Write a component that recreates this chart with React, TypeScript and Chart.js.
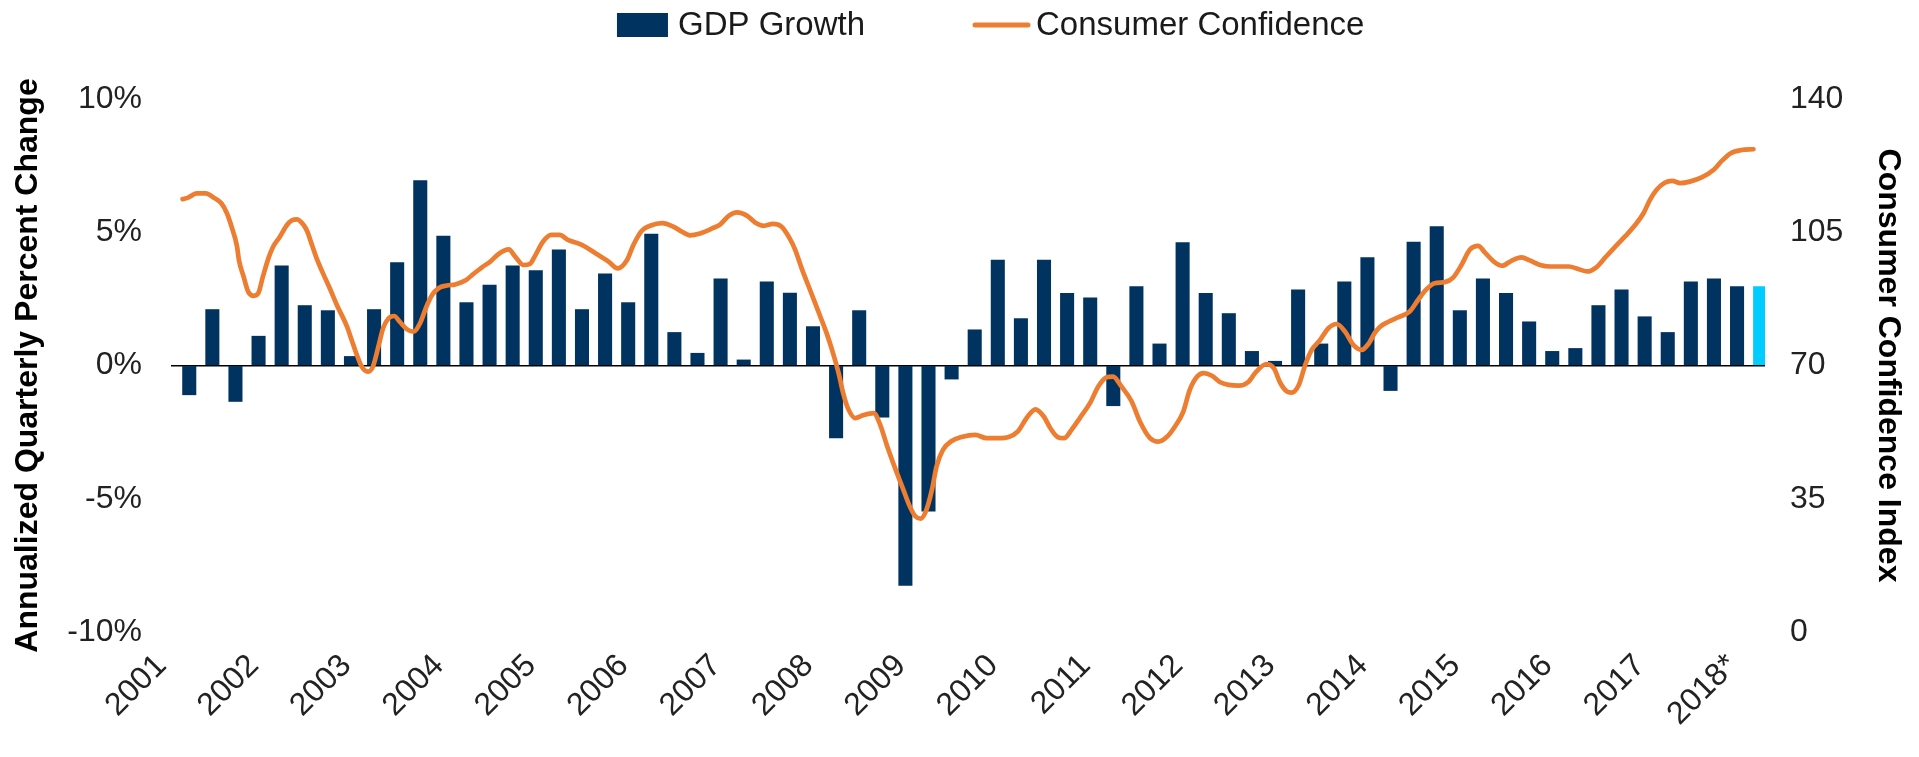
import React, { useEffect, useRef } from 'react';
import { Chart, registerables } from 'chart.js';

Chart.register(...registerables);

// ---------- DATA ----------
const yearLabels: string[] = [
  '2001', '2002', '2003', '2004', '2005', '2006', '2007', '2008', '2009',
  '2010', '2011', '2012', '2013', '2014', '2015', '2016', '2017', '2018*',
];

// Annualized quarterly GDP growth (%), 2001 Q1 .. 2018 Q1
const gdpGrowth: number[] = [
  -1.1, 2.1, -1.35, 1.1,
  3.74, 2.25, 2.06, 0.34,
  2.1, 3.86, 6.94, 4.86,
  2.36, 3.02, 3.74, 3.56,
  4.34, 2.1, 3.44, 2.36,
  4.93, 1.24, 0.46, 3.25,
  0.21, 3.14, 2.72, 1.46,
  -2.72, 2.06, -1.94, -8.25,
  -5.47, -0.51, 1.34, 3.96,
  1.76, 3.96, 2.71, 2.54,
  -1.51, 2.96, 0.81, 4.61,
  2.71, 1.95, 0.53, 0.16,
  2.84, 0.81, 3.14, 4.05,
  -0.94, 4.63, 5.21, 2.06,
  3.25, 2.71, 1.64, 0.53,
  0.64, 2.25, 2.84, 1.83,
  1.24, 3.14, 3.25, 2.96,
  2.96,
];
const forecastIndex = 68; // last bar (estimate) highlighted

// Consumer Confidence Index: time (decimal year, aligned to quarter centres) and value
const ccTime: number[] = [
  2001.00, 2001.06, 2001.15, 2001.25, 2001.35, 2001.42, 2001.48, 2001.53, 2001.59, 2001.61, 2001.66, 2001.71, 2001.77, 2001.82, 2001.87, 2001.93, 2001.98,
  2002.05, 2002.13, 2002.18, 2002.24, 2002.31, 2002.35, 2002.40, 2002.45, 2002.52, 2002.60, 2002.67, 2002.78, 2002.83, 2002.88, 2002.94,
  2003.01, 2003.06, 2003.12, 2003.17, 2003.23, 2003.29, 2003.35, 2003.43, 2003.50, 2003.57, 2003.64, 2003.70, 2003.77, 2003.86, 2003.95,
  2004.06, 2004.15, 2004.24, 2004.33, 2004.42, 2004.53, 2004.60, 2004.69, 2004.76, 2004.81, 2004.90, 2004.99,
  2005.08, 2005.17, 2005.32, 2005.50, 2005.61, 2005.71, 2005.81, 2005.88, 2005.97,
  2006.06, 2006.19, 2006.31, 2006.40, 2006.49, 2006.60, 2006.73, 2006.82, 2006.91,
  2007.00, 2007.11, 2007.20, 2007.29, 2007.39, 2007.48, 2007.57, 2007.63, 2007.70, 2007.79, 2007.88, 2007.97,
  2008.04, 2008.10, 2008.15, 2008.20, 2008.28, 2008.37, 2008.48, 2008.55, 2008.62, 2008.71, 2008.80, 2008.87, 2008.93, 2008.99,
  2009.05, 2009.11, 2009.16, 2009.23, 2009.32, 2009.43, 2009.58, 2009.70, 2009.83, 2009.94,
  2010.04, 2010.14, 2010.23, 2010.32, 2010.39, 2010.47, 2010.54, 2010.62, 2010.71, 2010.82, 2010.91,
  2011.00, 2011.07, 2011.16, 2011.27, 2011.36, 2011.47, 2011.56, 2011.65, 2011.74, 2011.83, 2011.90, 2011.98,
  2012.05, 2012.14, 2012.23, 2012.32, 2012.43, 2012.53, 2012.62, 2012.73, 2012.81, 2012.88, 2012.95,
  2013.00, 2013.08, 2013.15, 2013.22, 2013.31, 2013.40, 2013.49, 2013.58, 2013.67, 2013.76, 2013.84, 2013.90, 2013.96,
  2014.05, 2014.16, 2014.28, 2014.37, 2014.46, 2014.55, 2014.66, 2014.75, 2014.84, 2014.93,
  2015.02, 2015.10, 2015.19, 2015.28, 2015.38, 2015.49, 2015.58, 2015.69, 2015.80,
  2016.00, 2016.11, 2016.20, 2016.30, 2016.39, 2016.50, 2016.61, 2016.72, 2016.81, 2016.88, 2016.95,
  2017.04, 2017.12, 2017.21, 2017.31, 2017.44, 2017.57, 2017.66, 2017.75, 2017.87,
  2018.00,
];
const ccIndex: number[] = [
  113.7, 114.1, 115.2, 115.2, 113.9, 112.6, 110.0, 106.5, 101.2, 97.7, 93.4, 89.4, 88.3, 89.0, 93.4, 98.2, 101.2,
  103.7, 106.9, 108.1, 108.4, 106.9, 105.2, 101.7, 98.2, 94.2, 89.9, 85.9, 80.2, 76.7, 73.2, 69.7,
  68.4, 69.7, 75.0, 79.8, 82.4, 83.0, 81.5, 79.5, 78.9, 81.1, 85.5, 88.5, 90.3, 91.0, 91.3,
  92.3, 94.1, 95.8, 97.3, 99.3, 100.5, 98.6, 96.4, 96.7, 98.6, 102.5, 104.3,
  104.3, 103.0, 101.7, 99.0, 97.3, 95.5, 97.7, 101.7, 105.4,
  106.7, 107.4, 106.5, 105.2, 104.2, 104.7, 106.0, 107.1, 109.3,
  110.2, 109.3, 107.5, 106.7, 107.2, 106.5, 103.4, 100.4, 95.5, 89.9, 84.2, 78.5,
  73.2, 68.0, 62.7, 58.8, 56.2, 57.0, 57.5, 54.4, 49.2, 43.1, 37.4, 33.0, 30.4, 29.8,
  32.1, 37.4, 43.5, 47.9, 50.1, 51.2, 51.8, 50.9, 50.9, 51.2,
  52.7, 56.4, 58.5, 56.6, 53.6, 51.2, 50.9, 53.1, 56.2, 60.1, 64.5,
  66.9, 67.1, 64.5, 60.6, 55.3, 50.9, 50.0, 51.2, 54.0, 57.9, 63.6, 67.1,
  68.0, 67.3, 65.6, 64.9, 64.7, 65.6, 68.4, 70.4, 69.3, 65.4, 63.2,
  62.9, 64.9, 70.2, 74.1, 76.7, 79.8, 80.9, 78.9, 75.4, 74.1, 75.9, 78.5, 80.2,
  81.5, 82.7, 84.2, 87.2, 90.0, 91.6, 91.9, 93.1, 96.4, 100.4,
  101.4, 99.5, 97.3, 96.2, 97.5, 98.4, 97.6, 96.4, 96.0,
  96.0, 95.3, 94.7, 95.8, 98.2, 101.1, 103.9, 106.9, 110.0, 113.5, 116.1,
  118.0, 118.5, 117.9, 118.3, 119.4, 121.4, 123.8, 125.7, 126.6,
  126.8,
];

const seriesNames: string[] = ['GDP Growth', 'Consumer Confidence'];

// ---------- STYLE ----------
const NAVY = '#00335F';
const LIGHT_BLUE = '#00CCFF';
const ORANGE = '#ED7D31';
const TEXT = '#222222';
const FONT = '"Liberation Sans", Arial, Helvetica, sans-serif';

const quarterLabels: string[] = gdpGrowth.map((_, i) => {
  const y = yearLabels[Math.floor(i / 4)].replace('*', '');
  return `${y} Q${(i % 4) + 1}`;
});

const customLegend = {
  id: 'customLegend',
  afterDraw(chart: any) {
    const ctx = chart.ctx as CanvasRenderingContext2D;
    ctx.save();
    ctx.font = `33px ${FONT}`;
    ctx.textBaseline = 'middle';
    ctx.textAlign = 'left';
    const cy = 25;
    const boxW = 51, boxH = 24, gap1 = 10, spacing = 110, lineW = 53, gap2 = 8;
    const w1 = ctx.measureText(seriesNames[0]).width;
    const lineStart = 975;
    let x = lineStart - spacing - w1 - gap1 - boxW;
    ctx.fillStyle = NAVY;
    ctx.fillRect(x, cy - boxH / 2, boxW, boxH);
    x += boxW + gap1;
    ctx.fillStyle = '#1a1a1a';
    ctx.fillText(seriesNames[0], x, cy + 1);
    x = lineStart;
    ctx.strokeStyle = ORANGE;
    ctx.lineWidth = 5;
    ctx.lineCap = 'round';
    ctx.beginPath();
    ctx.moveTo(x, cy);
    ctx.lineTo(x + lineW, cy);
    ctx.stroke();
    x += lineW + gap2;
    ctx.fillText(seriesNames[1], x, cy + 1);
    ctx.restore();
  },
};

export default function App() {
  const canvasRef = useRef<HTMLCanvasElement | null>(null);

  useEffect(() => {
    if (!canvasRef.current) return;
    Chart.defaults.font.family = FONT;
    const chart = new Chart(canvasRef.current, {
      type: 'bar',
      data: {
        labels: quarterLabels,
        datasets: [
          {
            type: 'line',
            label: seriesNames[1],
            data: ccTime.map((t, i) => ({ x: t, y: ccIndex[i] })),
            xAxisID: 'xLine',
            yAxisID: 'y1',
            borderColor: ORANGE,
            borderWidth: 4.7,
            pointRadius: 0,
            cubicInterpolationMode: 'monotone',
            borderCapStyle: 'round',
            borderJoinStyle: 'round',
            order: 0,
          } as any,
          {
            type: 'bar',
            label: seriesNames[0],
            data: gdpGrowth,
            backgroundColor: gdpGrowth.map((_, i) => (i === forecastIndex ? LIGHT_BLUE : NAVY)),
            xAxisID: 'x',
            yAxisID: 'y',
            barThickness: 13.4,
            order: 1,
          } as any,
        ],
      },
      options: {
        animation: false,
        responsive: false,
        layout: { padding: { top: 99, left: 0, right: 0, bottom: 0 } },
        plugins: {
          legend: { display: false },
          tooltip: { enabled: false },
        },
        scales: {
          x: {
            type: 'category',
            position: 'bottom',
            offset: true,
            grid: { display: false, drawTicks: false },
            border: { display: false },
            ticks: {
              autoSkip: false,
              minRotation: 45,
              maxRotation: 45,
              labelOffset: -21,
              padding: 15,
              color: TEXT,
              font: { size: 32 },
              callback: (_v: any, i: number) => (i % 4 === 0 ? yearLabels[i / 4] : ''),
            },
            afterFit: (s: any) => { s.height = 125; },
          },
          xLine: {
            type: 'linear',
            display: false,
            offset: false,
            min: 2000.875,
            max: 2018.125,
            grid: { offset: false },
          },
          y: {
            position: 'left',
            min: -10,
            max: 10,
            border: { display: false },
            grid: {
              drawTicks: false,
              color: (c: any) => (c.tick && c.tick.value === 0 ? '#000000' : 'rgba(0,0,0,0)'),
              lineWidth: 1.5,
            },
            ticks: {
              stepSize: 5,
              padding: 29,
              color: TEXT,
              font: { size: 32 },
              callback: (v: any) => `${v}%`,
            },
            title: {
              display: true,
              text: 'Annualized Quarterly Percent Change',
              color: '#000000',
              font: { size: 32, weight: 'bold' },
              padding: { top: 9, bottom: 0 },
            },
            afterFit: (s: any) => { s.width = 171; },
          },
          y1: {
            position: 'right',
            min: 0,
            max: 140,
            border: { display: false },
            grid: { display: false, drawTicks: false },
            ticks: {
              stepSize: 35,
              padding: 25,
              color: TEXT,
              font: { size: 32 },
            },
            title: {
              display: true,
              text: 'Consumer Confidence Index',
              color: '#000000',
              font: { size: 32, weight: 'bold' },
              padding: { top: 12, bottom: 0 },
            },
            afterFit: (s: any) => { s.width = 154; },
          },
        },
      } as any,
      plugins: [customLegend],
    });
    return () => chart.destroy();
  }, []);

  return (
    <div style={{ position: 'fixed', left: 0, top: 0, width: 1919, height: 757, background: '#ffffff' }}>
      <canvas ref={canvasRef} width={1919} height={757} style={{ display: 'block' }} />
    </div>
  );
}
